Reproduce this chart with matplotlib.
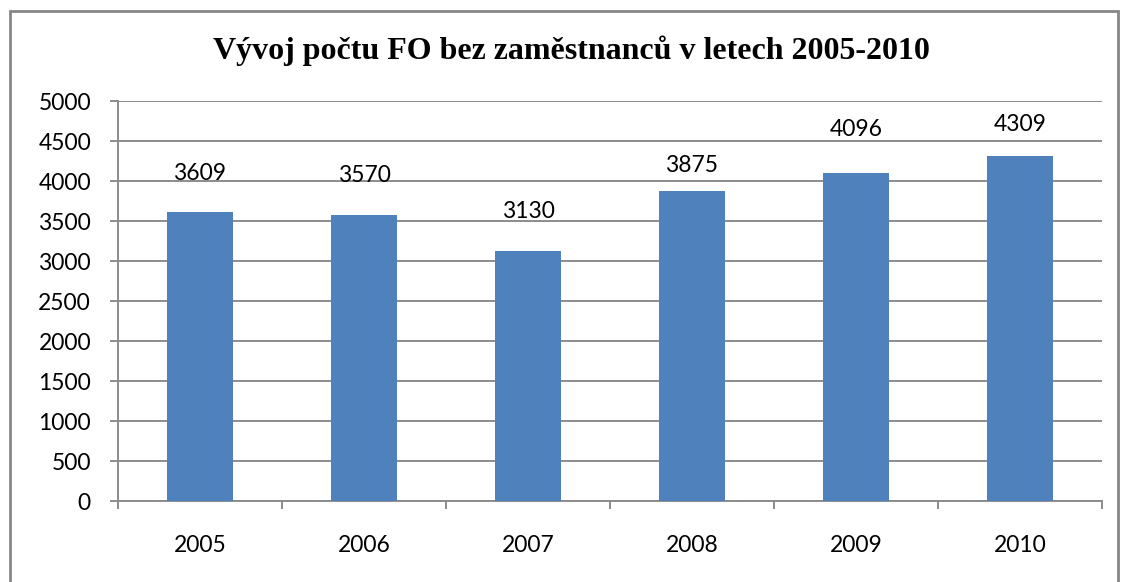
import matplotlib
matplotlib.use("Agg")
import matplotlib.pyplot as plt
from matplotlib.patches import Rectangle

years = ["2005", "2006", "2007", "2008", "2009", "2010"]
values = [3609, 3570, 3130, 3875, 4096, 4309]
yticks = [0, 500, 1000, 1500, 2000, 2500, 3000, 3500, 4000, 4500, 5000]
title = "Vývoj počtu FO bez zaměstnanců v letech 2005-2010"
# gap (px) between bar top and label baseline, as placed in the original
label_gap_px = [32, 33, 33, 19, 37, 25]

W, H = 1121, 582
PT = 72 / 100  # points per pixel
fig = plt.figure(figsize=(W / 100, H / 100), dpi=100)
fig.patch.set_facecolor("white")

# outer border (bottom edge off the picture)
fig.patches.append(Rectangle((9.5 / W, -0.05), (1118 - 9.5) / W, 1.05 - 10.5 / H,
                             transform=fig.transFigure, fill=False,
                             edgecolor="#868686", linewidth=2.0))

left, right, top, bottom = 118, 1102, 101, 501
ax = fig.add_axes([left / W, 1 - bottom / H, (right - left) / W, (bottom - top) / H])

grid_c = "#8c8c8c"
fs = 16.5
x = list(range(len(years)))
ax.bar(x, values, width=0.4, color="#4F81BD", zorder=3)
ax.set_xlim(-0.5, len(years) - 0.5)
ax.set_ylim(0, 5000)
ax.set_yticks(yticks)
ax.set_yticklabels([str(v) for v in yticks])
ax.yaxis.grid(True, color=grid_c, linewidth=1.4, zorder=0)
ax.set_axisbelow(True)

for s in ["top", "right"]:
    ax.spines[s].set_visible(False)
for s in ["left", "bottom"]:
    ax.spines[s].set_color(grid_c)
    ax.spines[s].set_linewidth(1.4)

ax.set_xticks(x)
ax.set_xticklabels(years)
ax.set_xticks([i - 0.5 for i in range(len(years) + 1)], minor=True)
ax.tick_params(axis="x", which="major", length=0, pad=34 * PT, labelsize=fs)
ax.tick_params(axis="x", which="minor", length=8 * PT, width=1.4, color=grid_c, direction="out")
ax.tick_params(axis="y", length=8 * PT, width=1.4, color=grid_c, pad=19 * PT, labelsize=fs)
for lab in ax.get_xticklabels() + ax.get_yticklabels():
    lab.set_fontfamily("Lato")

for xi, v, g in zip(x, values, label_gap_px):
    ax.annotate(str(v), (xi, v), xytext=(0, g * PT), textcoords="offset points",
                ha="center", va="baseline", fontsize=fs, family="Lato")

fig.text(571 / W, 1 - 51 / H, title, ha="center", va="center",
         fontsize=23, fontweight="bold", family="Liberation Serif")

fig.savefig("out.png", dpi=100)
